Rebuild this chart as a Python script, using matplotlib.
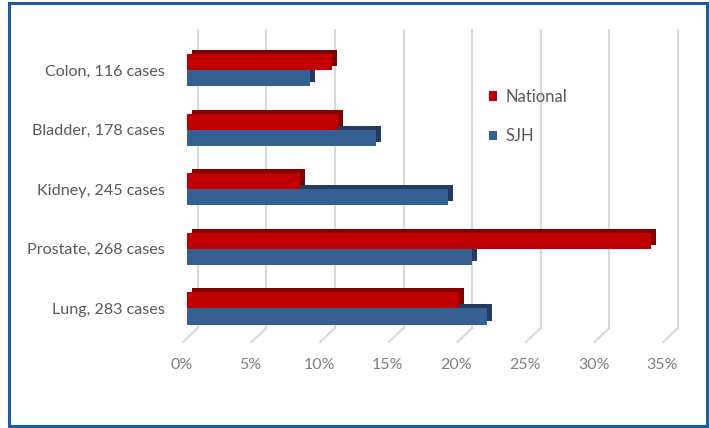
import numpy as np
import matplotlib
matplotlib.use("Agg")
import matplotlib.pyplot as plt
import matplotlib.transforms as mtransforms
from matplotlib.patches import Rectangle

# --- data (percent of cases) ---
sites = ["Lung, 283 cases", "Prostate, 268 cases", "Kidney, 245 cases",
         "Bladder, 178 cases", "Colon, 116 cases"]
national = [19.8, 33.8, 8.2, 11.0, 10.6]
sjh = [21.9, 20.8, 19.0, 13.8, 9.0]
ticks = [0, 5, 10, 15, 20, 25, 30, 35]
tick_labels = ["0%", "5%", "10%", "15%", "20%", "25%", "30%", "35%"]

red, red_dark = "#C00000", "#820000"
blue, blue_dark = "#376092", "#213C5E"
grid_col = "#D9D9D9"
txt_col = "#595959"

plt.rcParams['font.family'] = ['Lato', 'DejaVu Sans']

W, H = 709, 428
fig = plt.figure(figsize=(W / 100, H / 100), dpi=100)

def px_box(x0, y0, x1, y1):
    # pixel box (top-left origin) -> figure fraction
    return [x0 / W, 1 - y1 / H, (x1 - x0) / W, (y1 - y0) / H]

# back wall with gridlines (3d look)
wall = fig.add_axes(px_box(197.7, 30, 197.7 + 35 * 13.72, 328))
wall.set_xlim(0, 35)
wall.set_ylim(0, 1)
wall.axis("off")
blend = mtransforms.blended_transform_factory(wall.transData, wall.transAxes)
for t in ticks:
    wall.plot([t, t], [0, 1], color=grid_col, lw=1.5, transform=blend, clip_on=False)
    wall.plot([t, t - 1.07], [0, -0.047], color=grid_col, lw=1.5,
              transform=blend, clip_on=False)

# bars
ax = fig.add_axes(px_box(187, 40.2, 187 + 35 * 13.72, 338.3))
ax.patch.set_visible(False)
ax.set_xlim(0, 35)
ax.set_ylim(-0.5, 4.5)

y = np.arange(len(sites))
h = 0.27
back = mtransforms.offset_copy(ax.transData, fig=fig, x=5, y=4, units='dots')
ax.barh(y - h / 2, sjh, height=h, color=blue_dark, transform=back, zorder=2)
ax.barh(y + h / 2, national, height=h, color=red_dark, transform=back, zorder=2)
b_sjh = ax.barh(y - h / 2, sjh, height=h, color=blue, zorder=3, label="SJH")
b_nat = ax.barh(y + h / 2, national, height=h, color=red, zorder=3, label="National")

ax.set_yticks(y)
ax.set_yticklabels(sites, fontsize=11.6, color=txt_col)
ax.set_xticks(ticks)
ax.set_xticklabels(tick_labels, fontsize=11.5, color="#7F7F7F")
ax.tick_params(axis="both", length=0)
ax.tick_params(axis="y", pad=16)
ax.tick_params(axis="x", pad=14)
shift = mtransforms.ScaledTranslation(-5 / 100, 0, fig.dpi_scale_trans)
for lab in ax.get_xticklabels():
    lab.set_transform(lab.get_transform() + shift)
for s in ax.spines.values():
    s.set_visible(False)

leg = fig.legend(handles=[b_nat, b_sjh], labels=["National", "SJH"],
                 loc="upper left", bbox_to_anchor=(489 / W, 1 - 89 / H),
                 frameon=False, fontsize=12, handlelength=0.5, handleheight=0.5,
                 handletextpad=0.5, labelspacing=1.4, borderpad=0, borderaxespad=0)
for t in leg.get_texts():
    t.set_color(txt_col)

# outer blue frame
fig.patches.append(Rectangle((9 / W, 1 - 426 / H), 698 / W, 423 / H,
                             transform=fig.transFigure, fill=False,
                             edgecolor="#1F5C9E", lw=2.2))

fig.savefig("out.png", dpi=100)
